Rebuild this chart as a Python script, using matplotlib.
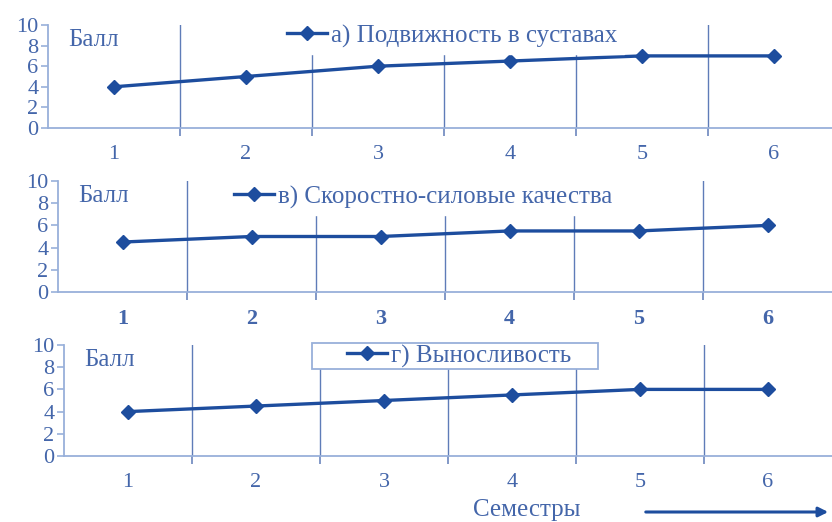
import matplotlib
matplotlib.use("Agg")
import matplotlib.pyplot as plt
from matplotlib.patches import FancyArrowPatch, Rectangle

plt.rcParams['font.family'] = ['Liberation Serif', 'DejaVu Serif']

semesters = [1, 2, 3, 4, 5, 6]
semester_labels = ["1", "2", "3", "4", "5", "6"]
mobility = [4, 5, 6, 6.5, 7, 7]
speed_strength = [4.5, 5, 5, 5.5, 5.5, 6]
endurance = [4, 4.5, 5, 5.5, 6, 6]
y_ticks = [0, 2, 4, 6, 8, 10]

series_names = ["а) Подвижность в суставах",
                "в) Скоростно-силовые качества",
                "г) Выносливость"]
series_values = [mobility, speed_strength, endurance]
y_label = "Балл"
x_label = "Семестры"

LINE = "#1d4d9e"
TEXT = "#4466aa"
AXIS = "#98b0da"
GRID = "#5f7cb8"

W, H = 832, 522
fig = plt.figure(figsize=(W / 100, H / 100), dpi=100)


def fx(px):
    return px / W


def fy(py):
    return 1 - py / H


# panel geometry in pixels: left, right, top (value 10), bottom (value 0);
# legend anchor (left x, centre y) in pixels; optional framed box
panels = [
    dict(left=48, right=840, top=25, bottom=128, bold=False,
         leg=(281, 36), box=None),
    dict(left=58, right=832, top=181, bottom=292, bold=True,
         leg=(228, 197), box=None),
    dict(left=64, right=832, top=345, bottom=456, bold=False,
         leg=(341, 356), box=(312, 343, 598, 369)),
]

FS_TICK = 16
FS_TEXT = 18

for p, name, vals in zip(panels, series_names, series_values):
    ax = fig.add_axes([fx(p["left"]), fy(p["bottom"]),
                       (p["right"] - p["left"]) / W,
                       (p["bottom"] - p["top"]) / H])
    ax.set_xlim(0.5, 6.5)
    ax.set_ylim(0, 10)
    ax.plot(semesters, vals, color=LINE, lw=2.4, marker="D", ms=7,
            label=name, zorder=3)

    for s in ("top", "right"):
        ax.spines[s].set_visible(False)
    for s in ("left", "bottom"):
        ax.spines[s].set_color(AXIS)
        ax.spines[s].set_linewidth(1.3)

    ax.set_yticks(y_ticks)
    ax.set_yticklabels([str(v) for v in y_ticks])
    ax.tick_params(axis="y", colors=AXIS, labelcolor=TEXT, length=5,
                   width=1.2, labelsize=FS_TICK, pad=2)

    ax.set_xticks(semesters)
    ax.set_xticklabels(semester_labels,
                       fontweight="bold" if p["bold"] else "normal")
    ax.tick_params(axis="x", which="major", length=0, labelcolor=TEXT,
                   labelsize=FS_TICK, pad=12)
    boundaries = [1.5, 2.5, 3.5, 4.5, 5.5]
    ax.set_xticks(boundaries, minor=True)
    ax.tick_params(axis="x", which="minor", length=6, width=1.1,
                   color=GRID, direction="out")
    ax.grid(True, axis="x", which="minor", color=GRID, lw=1.0, zorder=1)
    ax.grid(False, axis="x", which="major")
    ax.grid(False, axis="y")

    ax.text(fx(p["left"] + 20), fy(p["top"] + 15), y_label,
            transform=fig.transFigure, color=TEXT, fontsize=FS_TEXT,
            ha="left", va="center")

    framed = p["box"] is not None
    if framed:
        x0, y0, x1, y1 = p["box"]
        rect = Rectangle((fx(x0), fy(y1)), (x1 - x0) / W, (y1 - y0) / H,
                         transform=fig.transFigure, facecolor="white",
                         edgecolor=AXIS, lw=1.3, zorder=4)
        rect.set_clip_on(False)
        ax.add_artist(rect)

    leg = ax.legend(loc="center left",
                    bbox_to_anchor=(fx(p["leg"][0]), fy(p["leg"][1])),
                    bbox_transform=fig.transFigure,
                    fontsize=FS_TEXT, frameon=not framed, fancybox=False,
                    handlelength=1.6, handletextpad=0.15,
                    borderpad=0.25, borderaxespad=0.0)
    if not framed:
        leg.get_frame().set_facecolor("white")
        leg.get_frame().set_alpha(1.0)
        leg.get_frame().set_edgecolor("white")
    for t in leg.get_texts():
        t.set_color(TEXT)
    leg.set_zorder(5)

fig.text(fx(527), fy(510), x_label, color=TEXT, fontsize=FS_TEXT,
         ha="center", va="center")
arrow = FancyArrowPatch((fx(643), fy(512)), (fx(831), fy(512)),
                        transform=fig.transFigure, arrowstyle="-|>",
                        mutation_scale=14, color=LINE, lw=2.2)
fig.patches.append(arrow)

fig.savefig("out.png", dpi=100, facecolor="white")
